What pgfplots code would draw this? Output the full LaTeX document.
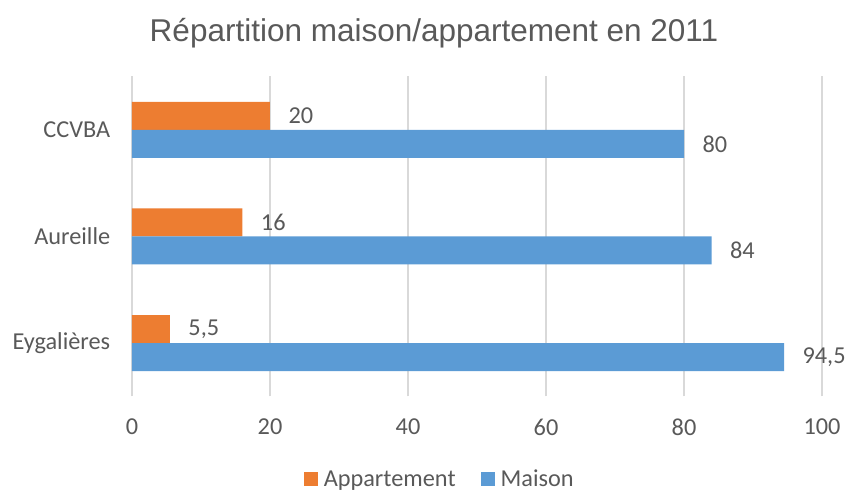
\documentclass[border=0pt]{standalone}
\usepackage{fontspec}
\setmainfont{Carlito}
\newfontfamily\titlefont{Liberation Sans}
\usepackage{pgfplots}
\pgfplotsset{compat=1.18}
\definecolor{corange}{HTML}{ED7D31}
\definecolor{cblue}{HTML}{5B9BD5}
\definecolor{ctext}{HTML}{595959}
\definecolor{cgrid}{HTML}{D9D9D9}
\begin{document}
\begin{tikzpicture}
\useasboundingbox (-132pt,-95.5pt) rectangle (720pt,396.5pt);
\begin{axis}[
  scale only axis,
  width=690pt, height=320pt,
  xmin=0, xmax=100,
  ymin=-0.5, ymax=2.5,
  xtick={0,20,40,60,80,100},
  ytick={0,1,2},
  yticklabels={Eygalières, Aureille, CCVBA},
  xbar, bar width=28pt,
  axis line style={draw=none},
  tick style={draw=none},
  xmajorgrids,
  grid style={cgrid, line width=1.2pt},
  tick label style={font=\fontsize{24.3}{28}\selectfont, text=ctext},
  /pgf/number format/assume math mode=true,
  xticklabel style={yshift=-19pt},
  yticklabel style={xshift=-14pt},
  nodes near coords={\pgfmathprintnumber[use comma,assume math mode=true]{\pgfplotspointmeta}},
  nodes near coords style={font=\fontsize{24.3}{28}\selectfont, text=ctext, anchor=west, xshift=15pt},
  legend style={draw=none, fill=none, at={(0.446,-0.258)}, anchor=center,
    legend columns=2, font=\fontsize{24.3}{28}\selectfont, text=ctext,
    nodes={inner ysep=0.5pt},
    /tikz/every odd column/.append style={column sep=4pt},
    /tikz/every even column/.append style={column sep=23pt}},
  legend image code/.code={\fill[#1] (0pt,-7pt) rectangle (14pt,7pt);},
  clip=false,
]
\addplot[fill=corange, draw=none, bar shift=14pt] coordinates {(5.5,0) (16,1) (20,2)};
\addlegendentry{Appartement}
\addplot[fill=cblue, draw=none, bar shift=-14pt] coordinates {(94.5,0) (84,1) (80,2)};
\addlegendentry{Maison}
\node[font=\titlefont\fontsize{31.5}{37}\selectfont, text=ctext] at (axis description cs:0.4377,1.135) {Répartition maison/appartement en 2011};
\end{axis}
\end{tikzpicture}
\end{document}
